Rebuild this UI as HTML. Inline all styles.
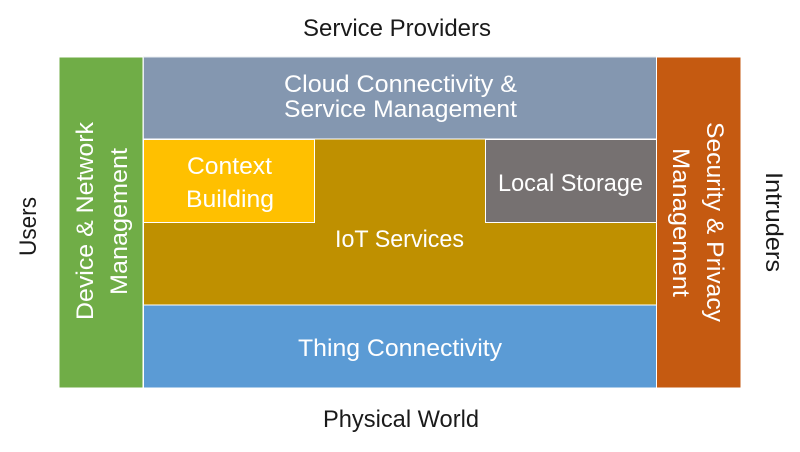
<!DOCTYPE html>
<html>
<head>
<meta charset="utf-8">
<style>
  html, body { margin: 0; padding: 0; background: #ffffff; }
  body { width: 800px; height: 452px; overflow: hidden; }
  svg { display: block; }
  text { font-family: "Liberation Sans", sans-serif; font-size: 24px; }
  .w { fill: #ffffff; }
  .d { fill: #1a1a1a; }
</style>
</head>
<body>
<svg width="800" height="452" viewBox="0 0 800 452" xmlns="http://www.w3.org/2000/svg">
  <rect x="0" y="0" width="800" height="452" fill="#ffffff"/>

  <!-- boxes -->
  <rect x="59" y="57" width="84" height="331" fill="#70AD47" stroke="#ffffff" stroke-width="1"/>
  <rect x="143.5" y="57" width="513" height="82" fill="#8497B0" stroke="#e8ecf2" stroke-width="1"/>
  <rect x="143.5" y="139" width="513" height="166" fill="#BF9000" stroke="#ffffff" stroke-width="1"/>
  <rect x="143.5" y="139.5" width="171" height="83" fill="#FFC000" stroke="#ffffff" stroke-width="1"/>
  <rect x="485.5" y="139.5" width="171" height="83" fill="#767171" stroke="#ffffff" stroke-width="1"/>
  <rect x="143.5" y="305" width="513" height="83" fill="#5B9BD5" stroke="#ffffff" stroke-width="1"/>
  <rect x="656.5" y="57" width="84.5" height="331" fill="#C55A11" stroke="#ffffff" stroke-width="1"/>

  <!-- outer labels -->
  <text class="d" x="303" y="36" textLength="188" lengthAdjust="spacingAndGlyphs">Service Providers</text>
  <text class="d" x="323" y="427" textLength="156" lengthAdjust="spacingAndGlyphs">Physical World</text>
  <text class="d" transform="translate(36,256) rotate(-90)" x="0" y="0" textLength="59" lengthAdjust="spacingAndGlyphs">Users</text>
  <text class="d" transform="translate(766,172) rotate(90)" x="0" y="0" textLength="100" lengthAdjust="spacingAndGlyphs">Intruders</text>

  <!-- inner labels -->
  <text class="w" x="284" y="92" textLength="233" lengthAdjust="spacingAndGlyphs">Cloud Connectivity &amp;</text>
  <text class="w" x="284" y="117" textLength="233" lengthAdjust="spacingAndGlyphs">Service Management</text>

  <text class="w" x="187" y="174" textLength="85" lengthAdjust="spacingAndGlyphs">Context</text>
  <text class="w" x="186" y="207" textLength="88" lengthAdjust="spacingAndGlyphs">Building</text>

  <text class="w" x="498" y="191" textLength="145" lengthAdjust="spacingAndGlyphs">Local Storage</text>

  <text class="w" x="335" y="247" textLength="129" lengthAdjust="spacingAndGlyphs">IoT Services</text>

  <text class="w" x="298" y="356" textLength="204" lengthAdjust="spacingAndGlyphs">Thing Connectivity</text>

  <text class="w" transform="translate(93,320) rotate(-90)" x="0" y="0" textLength="198" lengthAdjust="spacingAndGlyphs">Device &amp; Network</text>
  <text class="w" transform="translate(127,295) rotate(-90)" x="0" y="0" textLength="147" lengthAdjust="spacingAndGlyphs">Management</text>

  <text class="w" transform="translate(707,122) rotate(90)" x="0" y="0" textLength="200" lengthAdjust="spacingAndGlyphs">Security &amp; Privacy</text>
  <text class="w" transform="translate(673,148) rotate(90)" x="0" y="0" textLength="149" lengthAdjust="spacingAndGlyphs">Management</text>
</svg>
</body>
</html>
